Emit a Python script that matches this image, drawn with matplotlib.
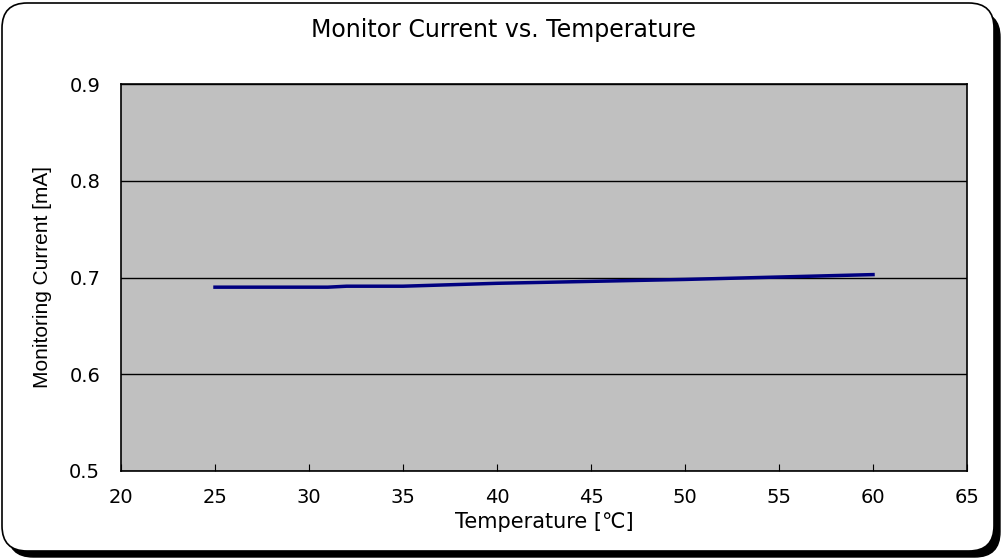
import matplotlib
matplotlib.use("Agg")
from matplotlib import pyplot as plt
from matplotlib.patches import FancyBboxPatch

## Données

temperature = [25, 30, 31, 32, 35, 40, 50, 60]
courant = [0.690, 0.690, 0.690, 0.691, 0.691, 0.694, 0.698, 0.703]

xticks = [20, 25, 30, 35, 40, 45, 50, 55, 60, 65]
yticks = [0.5, 0.6, 0.7, 0.8, 0.9]

## Figure

plt.rcParams['font.family'] = ['DejaVu Sans', 'Noto Sans CJK JP']

fig = plt.figure(figsize=(10.07, 5.58), dpi=100)

# cadre arrondi avec ombre
W, H = 1007, 558
ombre = FancyBboxPatch((8 / W, 1 / H), 992 / W, 545 / H,
                       boxstyle="round,pad=0,rounding_size=0.025",
                       transform=fig.transFigure, facecolor='black',
                       edgecolor='black', zorder=0, mutation_aspect=W / H)
cadre = FancyBboxPatch((2 / W, 7 / H), 992 / W, 548 / H,
                       boxstyle="round,pad=0,rounding_size=0.025",
                       transform=fig.transFigure, facecolor='white',
                       edgecolor='black', linewidth=1.2, zorder=1,
                       mutation_aspect=W / H)
fig.patches.extend([ombre, cadre])

ax = fig.add_axes([121 / W, 1 - 471 / H, 846 / W, 387 / H])
ax.set_facecolor('#c0c0c0')
ax.set_zorder(2)

ax.plot(temperature, courant, color='#000080', linewidth=2.5)

ax.set_xlim(20, 65)
ax.set_ylim(0.5, 0.9)
ax.set_xticks(xticks)
ax.set_yticks(yticks)
ax.set_yticklabels([f"{v:.1f}" for v in yticks])
ax.yaxis.grid(True, color='black', linewidth=1)
ax.tick_params(axis='both', direction='in', length=5, labelsize=14, pad=12)
ax.tick_params(axis='y', length=0, pad=15)
for s in ax.spines.values():
    s.set_linewidth(1.2)

ax.set_xlabel("Temperature [℃]", fontsize=15, labelpad=4)
ax.set_ylabel("Monitoring Current [mA]", fontsize=15, labelpad=12,
              family=['Liberation Sans'])
fig.text(0.5, 1 - 30 / H, "Monitor Current vs. Temperature", ha='center',
         va='center', fontsize=17)

fig.savefig("out.png", dpi=100)
